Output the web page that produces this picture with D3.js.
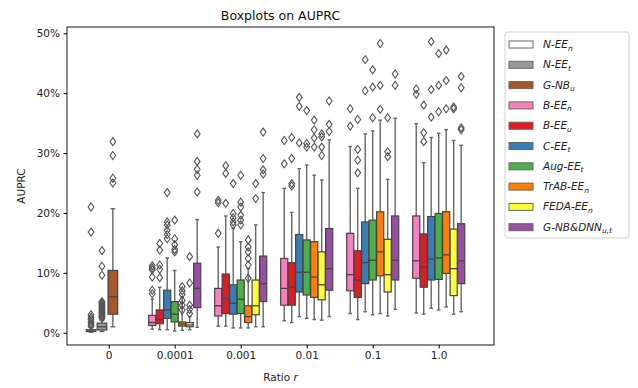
<!DOCTYPE html>
<html><head><meta charset="utf-8">
<script src="https://cdn.jsdelivr.net/npm/d3@7/dist/d3.min.js"></script>
<style>body{margin:0;background:#fff}svg{display:block;font-family:"DejaVu Sans",sans-serif}</style>
</head><body><svg id="c" width="638" height="388"></svg>
<script>
// categories (x) and tick labels
const categories = ["0", "0.0001", "0.001", "0.01", "0.1", "1.0"];
const yTicks = [0, 10, 20, 30, 40, 50];
// series: each entry per category = [low whisker, q1, median, q3, high whisker, outliers]
const N_EE_n = [[0.1,0.2,0.3,0.5,0.9,[21.0,16.8,3.0,2.6,2.2,1.8,1.4,1.1]],null,null,null,null,null];
const N_EE_t = [[0.2,0.45,1.0,1.6,2.1,[13.7,11.1,9.6,5.2,5.0,4.8,4.6,4.4,4.2,4.0,3.8,3.6,3.4,3.2,3.0,2.8,2.6,2.4]],null,null,null,null,null];
const G_NB_u = [[1.0,3.1,6.0,10.4,20.7,[31.9,29.6,25.8,25.0]],null,null,null,null,null];
const B_EE_n = [null,
  [0.6,1.2,1.7,2.9,5.6,[11.2,10.8,10.5,9.3,7.1,6.5]],
  [1.1,2.8,4.5,7.4,14.3,[22.1,21.7,16.6]],
  [2.0,4.6,7.4,12.4,24.1,[32.1,28.2]],
  [3.2,7.0,9.7,16.6,31.1,[37.4,34.5]],
  [3.3,9.1,12.0,19.5,34.9,[40.7,39.8]]];
const B_EE_u = [null,
  [0.5,1.5,2.2,3.8,7.6,[14.9,13.8,11.3,10.6,9.2]],
  [1.1,3.2,5.7,9.8,19.5,[27.9,26.6,21.6]],
  [1.7,4.6,7.6,11.7,20.1,[32.6,29.1,24.9,24.5]],
  [2.2,5.9,8.8,13.7,24.1,[35.6,30.6,28.8,26.7]],
  [3.1,7.6,10.9,16.5,28.4,[38.0,33.4,31.9]]];
const C_EE_t = [null,
  [0.5,2.4,3.8,7.1,12.5,[23.4,18.5,18.0,17.1,16.4,15.7]],
  [0.8,3.1,4.9,8.0,17.4,[24.9,19.9,19.2,18.5,18.0]],
  [2.7,6.8,10.1,16.4,27.4,[39.3,37.8,31.7]],
  [3.5,8.2,11.7,18.5,33.2,[45.6,40.4]],
  [4.1,8.8,12.3,19.4,32.6,[48.6,40.6,36.0]]];
const Aug_EE_t = [null,
  [0.3,1.8,3.1,5.2,10.4,[18.8,15.7,14.7,13.9,13.5]],
  [0.8,3.2,5.6,8.8,15.2,[26.3,21.8,21.0,19.6,18.8,18.0]],
  [2.4,6.3,10.1,15.5,28.0,[37.1,31.6,31.0]],
  [3.0,8.8,12.1,18.8,33.7,[43.9,41.0,35.9]],
  [3.8,8.9,12.5,19.9,33.3,[46.6,41.3,36.9]]];
const TrAB_EE_n = [null,
  [0.4,1.1,1.45,1.8,6.0,[7.7,7.0,6.4,5.4,4.6,3.8]],
  [0.8,1.7,2.7,4.5,10.7,[15.5,14.3,13.5,12.4,11.3,9.1]],
  [2.2,5.9,9.3,15.2,26.3,[35.5,33.9,32.5,31.0]],
  [3.2,9.5,13.5,20.2,35.5,[48.3,41.3,37.3]],
  [4.3,9.9,13.0,20.2,33.9,[47.2,42.1,37.4]]];
const FEDA_EE_n = [null,
  [0.5,1.0,1.3,1.7,2.7,[12.7,8.3,4.6,3.9,3.2]],
  [1.0,3.0,4.5,8.8,18.0,[24.9,22.4]],
  [2.1,5.5,8.0,13.5,25.5,[33.2,32.7,31.0,29.6]],
  [2.8,6.8,9.7,15.6,25.6,[35.9,30.2,29.4]],
  [3.1,6.2,10.7,17.3,32.1,[37.7,37.4]]];
const GNB_DNN_ut = [null,
  [0.9,4.2,7.4,11.6,18.9,[33.2,28.6,27.3,26.3,23.5]],
  [1.0,5.2,8.2,12.8,23.4,[33.5,29.1,27.2,26.5]],
  [2.7,7.1,10.7,17.4,32.2,[38.7,34.8,33.6]],
  [3.9,8.8,12.1,19.5,35.8,[43.2,41.3]],
  [3.5,8.2,12.0,18.2,31.3,[42.8,40.9,34.2,33.9]]];
const seriesNames = [["N-EE","n"],["N-EE","t"],["G-NB","u"],["B-EE","n"],["B-EE","u"],["C-EE","t"],["Aug-EE","t"],["TrAB-EE","n"],["FEDA-EE","n"],["G-NB&DNN","u,t"]];
const seriesData = [N_EE_n, N_EE_t, G_NB_u, B_EE_n, B_EE_u, C_EE_t, Aug_EE_t, TrAB_EE_n, FEDA_EE_n, GNB_DNN_ut];
const colors = ["#ffffff","#999999","#a65628","#f781bf","#e41a1c","#377eb8","#4daf4a","#ff7f00","#ffff33","#984ea3"];

const svg = d3.select("#c");
const L = 67, R = 494, T = 27, B = 345;
const x = d3.scaleLinear().domain([-0.632, 5.838]).range([L, R]);
const y = d3.scaleLinear().domain([-2.05, 51.05]).range([B, T]);
const step = x(1) - x(0);
// within-category dodge: category 0 holds series 0-2, others hold series 3-9
const dodge0 = d3.scaleBand().domain([0,1,2]).range([x(0)-0.36*step, x(0)+0.155*step]).padding(0.12);
const dodgeN = d3.scaleBand().domain([3,4,5,6,7,8,9]).range([-0.4*step, 0.4*step]).padding(0.05);
const edge = "#444";

seriesData.forEach((arr, s) => {
  arr.forEach((d, ci) => {
    if (!d) return;
    let cx, w;
    if (ci === 0) { cx = dodge0(s) + dodge0.bandwidth()/2; w = dodge0.bandwidth(); }
    else { cx = x(ci) + dodgeN(s) + dodgeN.bandwidth()/2; w = dodgeN.bandwidth(); }
    const [lo,q1,med,q3,hi,outs] = d;
    const g = svg.append("g");
    g.append("line").attr("x1",cx).attr("x2",cx).attr("y1",y(q3)).attr("y2",y(hi)).attr("stroke","#666").attr("stroke-width",1.4);
    g.append("line").attr("x1",cx).attr("x2",cx).attr("y1",y(q1)).attr("y2",y(lo)).attr("stroke","#666").attr("stroke-width",1.4);
    [lo,hi].forEach(v => g.append("line").attr("x1",cx-w/4).attr("x2",cx+w/4).attr("y1",y(v)).attr("y2",y(v)).attr("stroke","#666").attr("stroke-width",1.4));
    g.append("rect").attr("x",cx-w/2).attr("y",y(q3)).attr("width",w).attr("height",Math.max(0.5,y(q1)-y(q3)))
      .attr("fill",colors[s]).attr("stroke",edge).attr("stroke-width",1.2);
    g.append("line").attr("x1",cx-w/2).attr("x2",cx+w/2).attr("y1",y(med)).attr("y2",y(med)).attr("stroke",edge).attr("stroke-width",1.3);
    outs.forEach(v => {
      const py = y(v);
      g.append("path").attr("d",`M${cx},${py-4}L${cx+2.9},${py}L${cx},${py+4}L${cx-2.9},${py}Z`)
        .attr("fill","none").attr("stroke","#555").attr("stroke-width",1.1);
    });
  });
});

// frame
svg.append("rect").attr("x",L).attr("y",T).attr("width",R-L).attr("height",B-T).attr("fill","none").attr("stroke","#000").attr("stroke-width",0.9);
// y axis
const ya = svg.append("g").attr("transform",`translate(${L},0)`)
  .call(d3.axisLeft(y).tickValues(yTicks).tickFormat(d => d + "%").tickSize(3.5).tickPadding(3.5));
ya.select(".domain").remove();
ya.selectAll("text").attr("font-size",10.5).attr("fill","#222").attr("font-family","DejaVu Sans");
ya.selectAll("line").attr("stroke","#000");
// x axis
const xa = svg.append("g").attr("transform",`translate(0,${B})`)
  .call(d3.axisBottom(x).tickValues(d3.range(categories.length)).tickFormat(i => categories[i]).tickSize(3.5).tickPadding(3.5));
xa.select(".domain").remove();
xa.selectAll("text").attr("font-size",10.5).attr("fill","#222").attr("font-family","DejaVu Sans");
xa.selectAll("line").attr("stroke","#000");

svg.append("text").attr("x",(L+R)/2).attr("y",20).attr("text-anchor","middle").attr("font-size",12.5).attr("fill","#111").text("Boxplots on AUPRC");
const xl = svg.append("text").attr("x",(L+R)/2).attr("y",381).attr("text-anchor","middle").attr("font-size",10.5).attr("fill","#222");
xl.append("tspan").text("Ratio ");
xl.append("tspan").attr("font-style","italic").text("r");
svg.append("text").attr("transform",`translate(25,${(T+B)/2}) rotate(-90)`).attr("text-anchor","middle").attr("font-size",10.5).attr("fill","#222").text("AUPRC");

// legend
const lg = svg.append("g");
lg.append("rect").attr("x",505).attr("y",32).attr("width",124).attr("height",206).attr("rx",2.5)
  .attr("fill","#fff").attr("stroke","#ccc").attr("stroke-width",0.9);
seriesNames.forEach((nm, i) => {
  const yy = 44 + i*20.3;
  lg.append("rect").attr("x",509).attr("y",yy-3).attr("width",24).attr("height",7)
    .attr("fill",colors[i]).attr("stroke","#666").attr("stroke-width",1);
  const t = lg.append("text").attr("x",543).attr("y",yy+4).attr("font-size",10.5).attr("font-style","italic").attr("fill","#222");
  t.append("tspan").text(nm[0]);
  t.append("tspan").attr("font-size",7.5).attr("dy",2.5).text(nm[1]);
});
</script></body></html>
